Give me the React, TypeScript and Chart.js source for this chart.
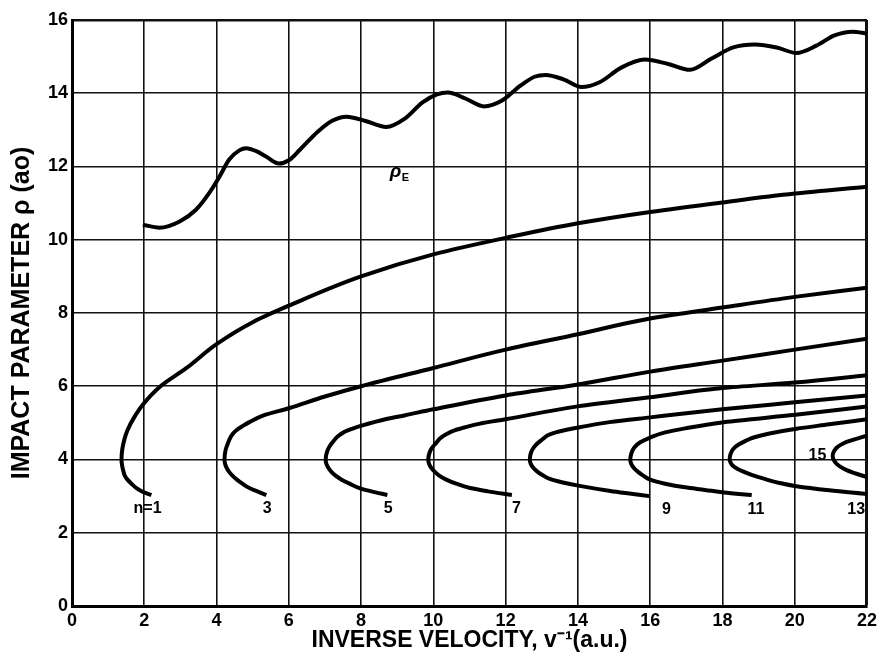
import React, { useEffect, useRef } from "react";
import { Chart, registerables } from "chart.js";

Chart.register(...registerables);

// ---- axes ----
const xTicks = [0, 2, 4, 6, 8, 10, 12, 14, 16, 18, 20, 22];
const yTicks = [0, 2, 4, 6, 8, 10, 12, 14, 16];
const xTitle = "INVERSE VELOCITY, v\u207B\u00B9(a.u.)";
const yTitle = "IMPACT PARAMETER \u03C1 (ao)";

// ---- rho_E (wavy) curve ----
const rhoEX = [1.96, 2.42, 2.98, 3.43, 3.8, 4.08, 4.35, 4.63, 4.82, 5.1, 5.37, 5.73, 6.0, 6.3, 6.8, 7.2, 7.6, 8.1, 8.7, 9.2, 9.7, 10.1, 10.4, 10.9, 11.4, 11.9, 12.4, 12.8, 13.1, 13.6, 14.1, 14.6, 15.2, 15.85, 16.5, 17.1, 17.7, 18.3, 18.9, 19.5, 20.05, 20.6, 21.1, 21.6, 22.0];
const rhoEY = [10.41, 10.33, 10.5, 10.82, 11.28, 11.72, 12.19, 12.44, 12.5, 12.42, 12.27, 12.08, 12.17, 12.45, 12.95, 13.25, 13.36, 13.25, 13.08, 13.3, 13.75, 13.97, 14.02, 13.85, 13.64, 13.8, 14.2, 14.45, 14.5, 14.38, 14.17, 14.3, 14.7, 14.92, 14.8, 14.64, 14.95, 15.25, 15.33, 15.25, 15.1, 15.3, 15.58, 15.68, 15.63];

// ---- n curves (lower end -> vertex -> upper branch; y increasing) ----
const n1X = [2.196, 1.976, 1.783, 1.645, 1.535, 1.46, 1.425, 1.398, 1.378, 1.37, 1.39, 1.45, 1.535, 1.72, 1.97, 2.45, 3.17, 4.0, 5.0, 6.0, 8.0, 10.0, 12.0, 14.0, 16.0, 18.0, 20.0, 22.0];
const n1Y = [3.03, 3.11, 3.22, 3.34, 3.45, 3.56, 3.67, 3.78, 3.89, 4.0, 4.27, 4.55, 4.8, 5.15, 5.51, 6.0, 6.5, 7.15, 7.75, 8.2, 9.0, 9.6, 10.05, 10.45, 10.76, 11.02, 11.26, 11.45];

const n3X = [5.377, 5.129, 4.909, 4.716, 4.564, 4.44, 4.344, 4.275, 4.234, 4.22, 4.253, 4.303, 4.358, 4.44, 4.55, 4.716, 4.909, 5.32, 6.0, 7.0, 8.0, 10.0, 12.0, 14.0, 16.0, 18.0, 20.0, 22.0];
const n3Y = [3.03, 3.13, 3.22, 3.34, 3.45, 3.56, 3.67, 3.78, 3.89, 4.0, 4.27, 4.41, 4.55, 4.69, 4.8, 4.91, 5.02, 5.21, 5.4, 5.72, 6.0, 6.5, 7.0, 7.42, 7.85, 8.15, 8.44, 8.69];

const n5X = [8.728, 8.287, 7.957, 7.681, 7.461, 7.295, 7.172, 7.089, 7.037, 7.02, 7.061, 7.13, 7.227, 7.351, 7.516, 7.764, 8.039, 8.673, 9.224, 9.995, 12.0, 14.0, 16.0, 18.0, 20.0, 22.0];
const n5Y = [3.03, 3.13, 3.22, 3.34, 3.45, 3.56, 3.67, 3.78, 3.89, 4.0, 4.22, 4.36, 4.49, 4.63, 4.74, 4.84, 4.93, 5.1, 5.21, 5.37, 5.75, 6.05, 6.4, 6.7, 7.0, 7.3];

const n7X = [12.174, 11.513, 11.017, 10.631, 10.356, 10.163, 10.034, 9.937, 9.879, 9.86, 9.896, 9.97, 10.067, 10.19, 10.356, 10.604, 10.879, 11.293, 12.0, 14.0, 16.0, 18.0, 20.0, 22.0];
const n7Y = [3.03, 3.13, 3.22, 3.34, 3.45, 3.56, 3.67, 3.78, 3.89, 4.0, 4.19, 4.33, 4.44, 4.58, 4.69, 4.8, 4.88, 4.98, 5.1, 5.45, 5.7, 5.95, 6.1, 6.3];

const n9X = [15.976, 15.425, 14.901, 14.047, 13.552, 13.221, 13.028, 12.877, 12.758, 12.692, 12.67, 12.703, 12.78, 12.89, 13.028, 13.166, 13.386, 13.717, 14.047, 14.874, 16.0, 18.0, 20.0, 22.0];
const n9Y = [3.0, 3.07, 3.14, 3.28, 3.38, 3.47, 3.57, 3.67, 3.78, 3.89, 4.0, 4.19, 4.33, 4.45, 4.56, 4.66, 4.74, 4.82, 4.88, 5.02, 5.15, 5.37, 5.56, 5.75];

const n11X = [18.81, 18.04, 17.516, 16.965, 16.414, 16.001, 15.808, 15.657, 15.538, 15.472, 15.45, 15.478, 15.56, 15.725, 16.001, 16.414, 16.965, 18.04, 20.02, 22.0];
const n11Y = [3.03, 3.1, 3.17, 3.24, 3.34, 3.45, 3.56, 3.67, 3.78, 3.89, 4.0, 4.16, 4.33, 4.47, 4.6, 4.74, 4.85, 5.02, 5.22, 5.45];

const n13X = [22.0, 20.955, 20.046, 19.577, 19.164, 18.806, 18.586, 18.42, 18.296, 18.222, 18.2, 18.228, 18.31, 18.448, 18.641, 18.861, 19.302, 20.046, 20.955, 22.0];
const n13Y = [3.06, 3.16, 3.27, 3.36, 3.47, 3.58, 3.67, 3.74, 3.82, 3.92, 4.0, 4.16, 4.3, 4.41, 4.51, 4.6, 4.71, 4.84, 4.96, 5.1];

const n15X = [22.0, 21.656, 21.436, 21.27, 21.16, 21.078, 21.05, 21.078, 21.16, 21.27, 21.436, 21.656, 22.0];
const n15Y = [3.52, 3.63, 3.71, 3.8, 3.88, 3.99, 4.1, 4.21, 4.32, 4.4, 4.48, 4.55, 4.65];

// ---- annotations ----
const curveLabels = ["n=1", "3", "5", "7", "9", "11", "13", "15"];
const curveLabelX = [2.09, 5.4, 8.75, 12.3, 16.45, 18.93, 21.7, 20.63];
const curveLabelY = [2.66, 2.66, 2.66, 2.66, 2.62, 2.62, 2.62, 4.1];
const rhoELabelX = 8.95;
const rhoELabelY = 11.86;

const nCurves: [number[], number[]][] = [
  [n1X, n1Y],
  [n3X, n3Y],
  [n5X, n5Y],
  [n7X, n7Y],
  [n9X, n9Y],
  [n11X, n11Y],
  [n13X, n13Y],
  [n15X, n15Y],
];

const FONT = "'Liberation Sans', Arial, sans-serif";

const labelPlugin = {
  id: "curveLabels",
  afterDatasetsDraw(chart: any) {
    const { ctx, scales } = chart;
    const xs = scales.x;
    const ys = scales.y;
    ctx.save();
    ctx.fillStyle = "#000";
    ctx.textAlign = "center";
    ctx.textBaseline = "middle";
    curveLabels.forEach((t, i) => {
      ctx.font = `bold 16px ${FONT}`;
      ctx.fillText(t, xs.getPixelForValue(curveLabelX[i]), ys.getPixelForValue(curveLabelY[i]));
    });
    const px = xs.getPixelForValue(rhoELabelX);
    const py = ys.getPixelForValue(rhoELabelY);
    ctx.font = `italic bold 19px ${FONT}`;
    ctx.fillText("\u03C1", px, py);
    ctx.font = `bold 11px ${FONT}`;
    ctx.fillText("E", px + 10, py + 6);
    ctx.restore();
  },
};

const lineStyle = {
  showLine: true,
  borderColor: "#000",
  borderWidth: 4,
  pointRadius: 0,
  cubicInterpolationMode: "monotone" as const,
  fill: false,
};

export default function App() {
  const ref = useRef<HTMLCanvasElement | null>(null);

  useEffect(() => {
    if (!ref.current) return;
    const datasets: any[] = [
      {
        ...lineStyle,
        data: rhoEX.map((x, i) => ({ x, y: rhoEY[i] })),
      },
      ...nCurves.map(([xs, ys]) => ({
        ...lineStyle,
        indexAxis: "y",
        data: xs.map((x, i) => ({ x, y: ys[i] })),
      })),
    ];
    const chart = new Chart(ref.current, {
      type: "scatter",
      data: { datasets },
      options: {
        animation: false,
        responsive: false,
        devicePixelRatio: 1,
        layout: { padding: { left: 0, top: 20, right: 10, bottom: 0 } },
        plugins: { legend: { display: false }, tooltip: { enabled: false } },
        scales: {
          x: {
            type: "linear",
            min: 0,
            max: 22,
            afterBuildTicks: (s: any) => {
              s.ticks = xTicks.map((v) => ({ value: v }));
            },
            afterFit: (s: any) => {
              s.height = 47;
            },
            grid: {
              color: "#111",
              lineWidth: (c: any) => (c.tick && c.tick.value === 22 ? 3 : 1.6),
              drawTicks: false,
            },
            border: { display: true, color: "#000", width: 3 },
            ticks: {
              color: "#000",
              font: { family: FONT, size: 18, weight: "bold" },
              padding: 4,
              maxRotation: 0,
              autoSkip: false,
            },
            title: {
              display: true,
              text: xTitle,
              color: "#000",
              font: { family: FONT, size: 23, weight: "bold", lineHeight: 1.1 },
              padding: { top: 0, bottom: 0 },
            },
          },
          y: {
            type: "linear",
            min: 0,
            max: 16,
            afterBuildTicks: (s: any) => {
              s.ticks = yTicks.map((v) => ({ value: v }));
            },
            afterFit: (s: any) => {
              s.width = 72;
            },
            grid: {
              color: "#111",
              lineWidth: (c: any) => (c.tick && c.tick.value === 16 ? 2.5 : 1.6),
              drawTicks: false,
            },
            border: { display: true, color: "#000", width: 3 },
            ticks: {
              color: "#000",
              font: { family: FONT, size: 18, weight: "bold" },
              padding: 4,
              autoSkip: false,
            },
            title: {
              display: true,
              text: yTitle,
              color: "#000",
              font: { family: FONT, size: 25, weight: "bold", lineHeight: 1.0 },
              padding: { top: 10, bottom: 0 },
            },
          },
        },
      },
      plugins: [labelPlugin],
    });
    return () => chart.destroy();
  }, []);

  return (
    <div style={{ position: "absolute", left: 0, top: 0, width: 881, height: 653, background: "#fff" }}>
      <canvas ref={ref} width={881} height={653} style={{ display: "block" }} />
    </div>
  );
}
